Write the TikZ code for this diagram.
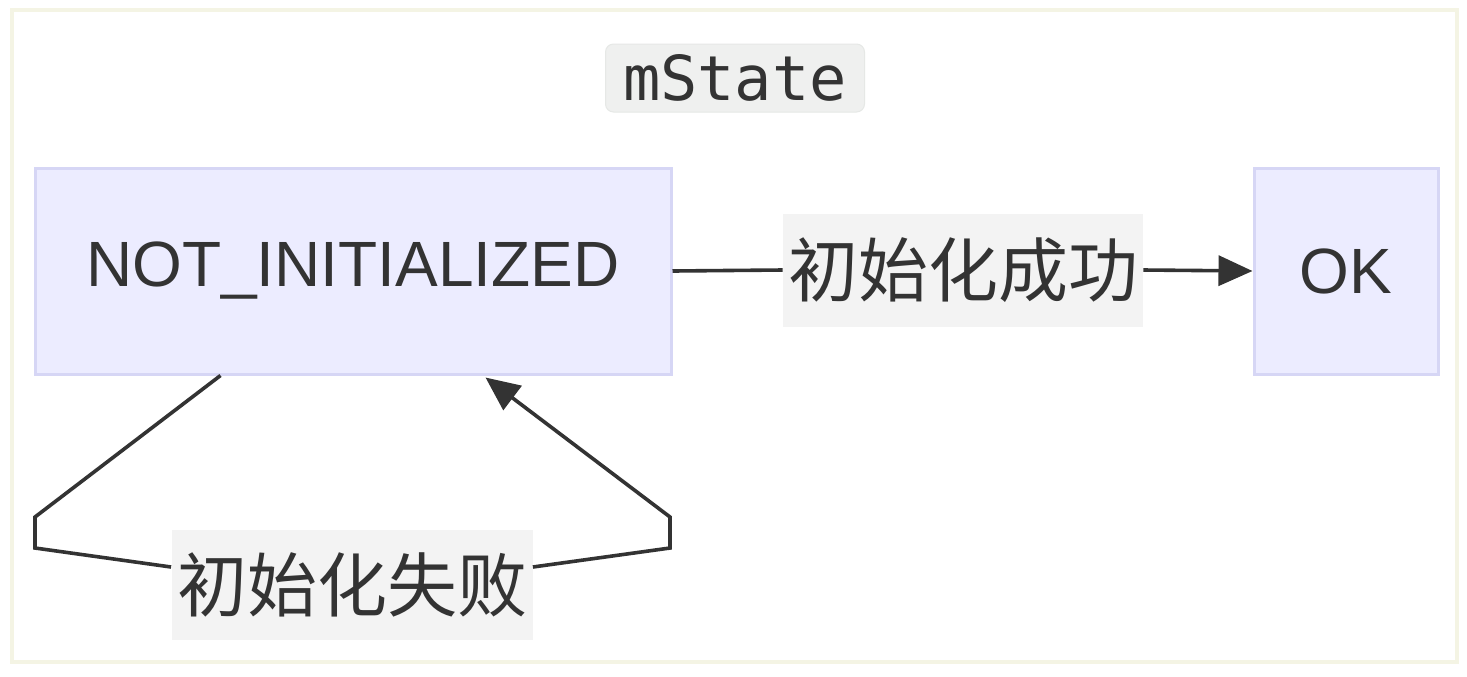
\documentclass[tikz,border=0pt]{standalone}
\usepackage{fontspec}
\setmainfont{Liberation Sans}
\setmonofont{DejaVu Sans Mono}
\newfontfamily\cjk{Noto Sans CJK SC}
\usetikzlibrary{arrows.meta}
\definecolor{nodefill}{HTML}{ECECFF}
\definecolor{nodeline}{HTML}{D6D6F5}
\definecolor{labelfill}{HTML}{F3F3F3}
\definecolor{framecol}{HTML}{F4F4E4}
\definecolor{txt}{HTML}{333333}
\definecolor{titlefill}{HTML}{EFF0EF}
\definecolor{titleline}{HTML}{E6E8E6}
\tikzset{
  statebox/.style={draw=nodeline, fill=nodefill, line width=1.5pt, text=txt,
    font=\fontsize{32}{38}\selectfont, inner sep=0pt},
  edgelabel/.style={fill=labelfill, text=txt, inner sep=0pt,
    font=\cjk\fontsize{35}{40}\selectfont},
  conn/.style={draw=txt, line width=1.8pt},
  arrowed/.style={conn, -{Triangle[length=17pt,width=15pt]}}
}
\begin{document}
\begin{tikzpicture}[x=0.5pt,y=-0.5pt]
\useasboundingbox (0,0) rectangle (1467,676);
\fill[white] (0,0) rectangle (1467,676);
\draw[framecol, line width=2pt, fill=white] (12,10) rectangle (1457,662);
\node[fill=titlefill, draw=titleline, line width=0.5pt, rounded corners=4pt,
  minimum width=129.5pt, minimum height=34pt, inner sep=0pt, text=txt,
  font=\ttfamily\fontsize{31}{36}\selectfont] (title) at (735,78) {mState};
\node[statebox, minimum width=318pt, minimum height=103pt] (ni) at (353,271) {NOT\_INITIALIZED};
\node[statebox, minimum width=92pt, minimum height=103pt] (ok) at (1346,271) {OK};
\node[edgelabel, minimum width=180pt, minimum height=56.5pt] (succ) at (963,270) {初始化成功};
\node[edgelabel, minimum width=180.5pt, minimum height=55pt] (fail) at (352,585) {初始化失败};
\coordinate (c1) at (35,517);
\coordinate (c2) at (35,548);
\coordinate (c3) at (670,548);
\coordinate (c4) at (670,517);
\draw[conn] (ni.east) -- (succ.west);
\draw[arrowed] (succ.east) -- (ok.west);
\draw[conn] ([xshift=93.5pt]ni.south west) -- (c1) -- (c2) -- ([yshift=9pt]fail.west);
\draw[arrowed] ([yshift=9pt]fail.east) -- (c3) -- (c4) -- ([xshift=226pt,yshift=-1pt]ni.south west);
\end{tikzpicture}
\end{document}
